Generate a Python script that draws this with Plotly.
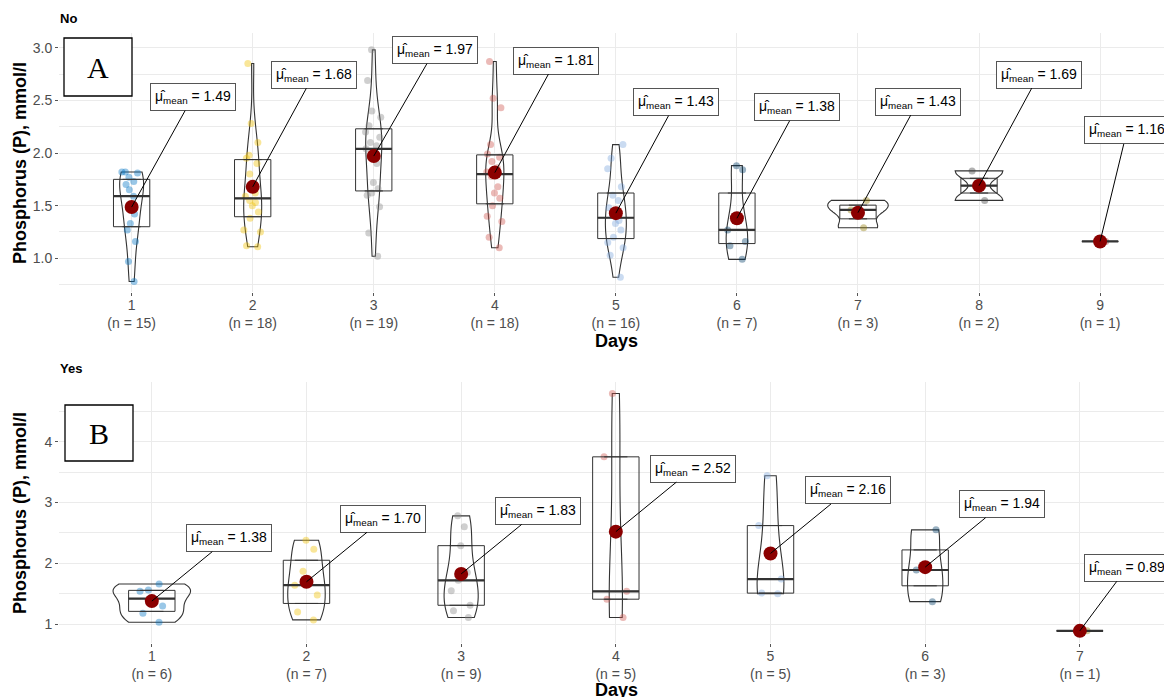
import numpy as np
import plotly.graph_objects as go

# ---------------- data ----------------
no_days = [1, 2, 3, 4, 5, 6, 7, 8, 9]
no_day1 = [0.78, 0.97, 1.16, 1.27, 1.33, 1.42, 1.48, 1.59, 1.65, 1.70, 1.73, 1.77, 1.81, 1.82, 1.82]
no_day2 = [1.11, 1.12, 1.25, 1.27, 1.38, 1.44, 1.50, 1.53, 1.55, 1.59, 1.62, 1.80, 1.90, 1.95, 1.98, 2.10, 2.28, 2.85]
no_day3 = [1.02, 1.24, 1.49, 1.60, 1.62, 1.66, 1.72, 1.90, 1.97, 2.04, 2.07, 2.10, 2.15, 2.20, 2.26, 2.34, 2.40, 2.69, 2.98]
no_day4 = [1.10, 1.20, 1.35, 1.40, 1.50, 1.57, 1.62, 1.68, 1.78, 1.82, 1.86, 1.92, 1.96, 1.99, 2.08, 2.43, 2.52, 2.87]
no_day5 = [0.82, 1.03, 1.10, 1.15, 1.20, 1.27, 1.33, 1.36, 1.41, 1.48, 1.55, 1.60, 1.68, 1.85, 1.95, 2.08]
no_day6 = [0.99, 1.12, 1.16, 1.27, 1.40, 1.84, 1.88]
no_day7 = [1.29, 1.46, 1.55]
no_day8 = [1.55, 1.83]
no_day9 = [1.16]

yes_days = [1, 2, 3, 4, 5, 6, 7]
yes_day1 = [1.03, 1.18, 1.30, 1.54, 1.56, 1.66]
yes_day2 = [1.07, 1.20, 1.48, 1.64, 1.87, 2.23, 2.38]
yes_day3 = [1.11, 1.22, 1.31, 1.55, 1.72, 1.85, 2.29, 2.60, 2.78]
yes_day4 = [1.11, 1.41, 1.54, 3.75, 4.79]
yes_day5 = [1.50, 1.51, 1.74, 2.62, 3.44]
yes_day6 = [1.37, 1.89, 2.55]
yes_day7 = [0.89]

no_groups = [no_day1, no_day2, no_day3, no_day4, no_day5, no_day6, no_day7, no_day8, no_day9]
yes_groups = [yes_day1, yes_day2, yes_day3, yes_day4, yes_day5, yes_day6, yes_day7]

# label offsets (pixels) of the mean labels
no_label_offsets = [(61, -110), (61, -112), (61, -106), (61, -112), (60, -111),
                    (60, -111), (60, -111), (60, -111), (27, -111)]
yes_label_offsets = [(77, -63)] * 6 + [(47, -63)]

# ---------------- styles ----------------
JCO = ["#0073C2", "#EFC000", "#868686", "#CD534C", "#7AA6DC",
       "#003C67", "#8F7700", "#3B3B3B", "#A73030"]
FONT = "Liberation Sans, Arial, sans-serif"
W, H = 1164, 697
ML = 59
PW = W - ML


def rgba(hexc, a):
    h = hexc.lstrip('#')
    return f"rgba({int(h[0:2],16)},{int(h[2:4],16)},{int(h[4:6],16)},{a})"


def px_x(px):
    return (px - ML) / PW


def px_y(py):
    return 1 - py / H


def nrd0(v):
    v = np.asarray(v, float)
    n = len(v)
    sd = v.std(ddof=1)
    q75, q25 = np.percentile(v, [75, 25])
    lo = min(sd, (q75 - q25) / 1.34)
    if lo <= 0:
        lo = sd if sd > 0 else 1.0
    return 0.9 * lo * n ** -0.2


fig = go.Figure()
annotations = []


def add_panel(groups, days, xa, ya, sgroup, offsets):
    means = []
    for i, vals in enumerate(groups):
        d = days[i]
        v = np.asarray(vals, float)
        col = JCO[i % len(JCO)]
        # jittered raw points
        fig.add_trace(go.Box(
            x=[d] * len(v), y=v, boxpoints='all', jitter=0.6, pointpos=0,
            width=0.3, line=dict(width=0), fillcolor='rgba(0,0,0,0)',
            marker=dict(color=rgba(col, 0.4), size=7, line=dict(width=0)),
            xaxis=xa, yaxis=ya, showlegend=False, hoverinfo='y'))
        q1, med, q3 = np.percentile(v, [25, 50, 75])
        # box (no whiskers)
        fig.add_trace(go.Box(
            x=[d], q1=[q1], median=[med], q3=[q3], lowerfence=[q1], upperfence=[q3],
            width=0.3, boxpoints=False, line=dict(color='#333333', width=1),
            fillcolor='rgba(255,255,255,0)', xaxis=xa, yaxis=ya, showlegend=False))
        # thick median line
        fig.add_trace(go.Box(
            x=[d], q1=[med], median=[med], q3=[med], lowerfence=[med], upperfence=[med],
            width=0.3, boxpoints=False, line=dict(color='#333333', width=2.2),
            fillcolor='rgba(255,255,255,0)', xaxis=xa, yaxis=ya, showlegend=False))
        if len(v) > 1:
            # violins of one panel share a scale group -> equal-area scaling
            fig.add_trace(go.Violin(
                x=[d] * len(v), y=v, scalegroup=sgroup, scalemode='width',
                spanmode='hard', bandwidth=nrd0(v), points=False,
                box_visible=False, meanline_visible=False,
                line=dict(color='#333333', width=1.1), fillcolor='rgba(0,0,0,0)',
                xaxis=xa, yaxis=ya, showlegend=False))
        m = float(v.mean())
        means.append(m)
        ox, oy = offsets[i]
        annotations.append(dict(
            x=d, y=m, xref=xa, yref=ya, ax=ox, ay=oy,
            text=f"μ̂<sub>mean</sub> = {m:.2f}",
            showarrow=True, arrowhead=0, arrowwidth=1, arrowcolor='black',
            standoff=0, startstandoff=0,
            bgcolor='white', bordercolor='#555555', borderwidth=1, borderpad=4,
            font=dict(size=14, color='black', family=FONT)))
    fig.add_trace(go.Scatter(
        x=days, y=means, mode='markers',
        marker=dict(size=14, color='#8B0000'),
        xaxis=xa, yaxis=ya, showlegend=False))


add_panel(no_groups, no_days, 'x', 'y', 'no', no_label_offsets)
add_panel(yes_groups, yes_days, 'x2', 'y2', 'yes', yes_label_offsets)

tickfont = dict(size=14, color='#4D4D4D', family=FONT)
GRID = '#EBEBEB'


def xaxis(days, groups, anchor, rng):
    return dict(domain=[0, 1], anchor=anchor, range=rng, automargin=False,
                tickmode='array', tickvals=days,
                ticktext=[f"{d}<br>(n = {len(g)})" for d, g in zip(days, groups)],
                showgrid=True, gridcolor=GRID, gridwidth=1, zeroline=False,
                showline=False, ticks='outside', ticklen=3, tickcolor='#555555',
                tickfont=tickfont, ticklabelstandoff=-3)


def yaxis(anchor, dom, rng, dtick, mdtick, fmt):
    return dict(domain=dom, anchor=anchor, range=rng, automargin=False,
                tickmode='linear', tick0=0,
                dtick=dtick, tickformat=fmt, showgrid=True, gridcolor=GRID,
                gridwidth=1, zeroline=False, showline=False, ticks='outside',
                ticklen=3, tickcolor='#555555', tickfont=tickfont,
                minor=dict(dtick=mdtick, tick0=0, showgrid=True, gridcolor=GRID,
                           gridwidth=0.8, ticks=''))


fig.update_layout(
    width=W, height=H,
    margin=dict(l=ML, r=0, t=0, b=0, autoexpand=False),
    paper_bgcolor='white', plot_bgcolor='white',
    font=dict(family=FONT),
    boxmode='overlay', violinmode='overlay',
    violingap=0.5, violingroupgap=0,
    showlegend=False,
    xaxis=xaxis(no_days, no_groups, 'y', [0.4, 9.528]),
    yaxis=yaxis('x', [px_y(292), px_y(33)], [0.68, 3.14], 0.5, 0.25, '.1f'),
    xaxis2=xaxis(yes_days, yes_groups, 'y2', [0.4, 7.544]),
    yaxis2=yaxis('x2', [px_y(643), px_y(382)], [0.69, 4.98], 1, 0.5, 'd'),
)

# titles / axis titles
title_font = dict(size=18, color='black', family=FONT)
annotations += [
    dict(text="<b>No</b>", x=px_x(58), y=px_y(19), xref='paper', yref='paper',
         xanchor='left', yanchor='middle', showarrow=False,
         font=dict(size=13, color='black', family=FONT)),
    dict(text="<b>Yes</b>", x=px_x(58), y=px_y(368), xref='paper', yref='paper',
         xanchor='left', yanchor='middle', showarrow=False,
         font=dict(size=13, color='black', family=FONT)),
    dict(text="<b>Phosphorus (P), mmol/l</b>", x=px_x(20), y=px_y(163),
         xref='paper', yref='paper', textangle=-90, xanchor='center',
         yanchor='middle', showarrow=False, font=title_font),
    dict(text="<b>Phosphorus (P), mmol/l</b>", x=px_x(20), y=px_y(513),
         xref='paper', yref='paper', textangle=-90, xanchor='center',
         yanchor='middle', showarrow=False, font=title_font),
    dict(text="<b>Days</b>", x=px_x(616), y=px_y(341), xref='paper', yref='paper',
         xanchor='center', yanchor='middle', showarrow=False, font=title_font),
    dict(text="<b>Days</b>", x=px_x(616), y=px_y(690), xref='paper', yref='paper',
         xanchor='center', yanchor='middle', showarrow=False, font=title_font),
    dict(text="A", x=px_x(98), y=px_y(68), xref='paper', yref='paper',
         xanchor='center', yanchor='middle', showarrow=False,
         font=dict(size=30, color='black', family='Liberation Serif, Times New Roman, serif')),
    dict(text="B", x=px_x(99), y=px_y(433), xref='paper', yref='paper',
         xanchor='center', yanchor='middle', showarrow=False,
         font=dict(size=30, color='black', family='Liberation Serif, Times New Roman, serif')),
]

shapes = [
    dict(type='rect', xref='paper', yref='paper', x0=px_x(64), x1=px_x(132),
         y0=px_y(96), y1=px_y(38), fillcolor='white', line=dict(color='black', width=1.3),
         layer='above'),
    dict(type='rect', xref='paper', yref='paper', x0=px_x(65), x1=px_x(133),
         y0=px_y(461), y1=px_y(405), fillcolor='white', line=dict(color='black', width=1.3),
         layer='above'),
]

fig.update_layout(annotations=annotations, shapes=shapes)
fig.write_html(
    "out.html",
    config={'displayModeBar': False},
    post_script="document.body.style.margin='0';document.body.style.overflow='hidden';",
)
